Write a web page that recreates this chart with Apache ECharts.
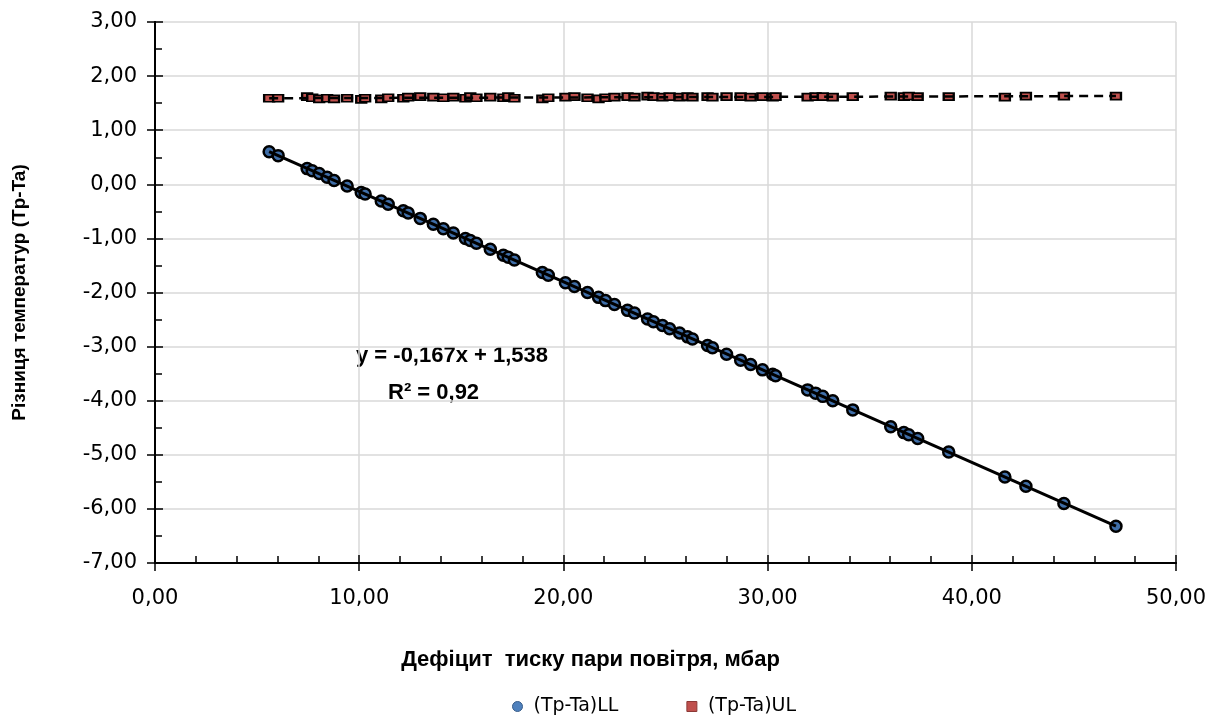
<!DOCTYPE html>
<html>
<head>
<meta charset="utf-8">
<title>Різниця температур</title>
<script src="https://cdn.jsdelivr.net/npm/echarts@6/dist/echarts.min.js"></script>
<style>
    html, body { margin: 0; padding: 0; background: #fff; }
    #main { width: 1211px; height: 724px; }
</style>
</head>
<body>
<div id="main"></div>
<script>
// дефіцит тиску пари повітря, мбар (спільний для обох рядів)
var deficit = [5.59, 6.03, 7.45, 7.70, 8.04, 8.43, 8.77, 9.41, 10.10, 10.29,
    11.08, 11.42, 12.16, 12.40, 12.99, 13.63, 14.12, 14.61, 15.20, 15.44,
    15.74, 16.42, 17.06, 17.30, 17.60, 18.97, 19.26, 20.10, 20.54, 21.18,
    21.72, 22.06, 22.50, 23.14, 23.48, 24.12, 24.41, 24.85, 25.20, 25.69,
    26.08, 26.32, 27.06, 27.30, 27.99, 28.68, 29.17, 29.75, 30.25, 30.39,
    31.96, 32.35, 32.70, 33.19, 34.17, 36.03, 36.67, 36.91, 37.35, 38.87,
    41.62, 42.65, 44.51, 47.06];

// (Tp-Ta)LL
var diffLL = [0.60, 0.53, 0.29, 0.25, 0.20, 0.13, 0.07, -0.03, -0.15, -0.18,
    -0.31, -0.37, -0.49, -0.53, -0.63, -0.74, -0.82, -0.90, -1.00, -1.04,
    -1.09, -1.20, -1.31, -1.35, -1.40, -1.63, -1.68, -1.82, -1.89, -2.00,
    -2.09, -2.15, -2.22, -2.33, -2.38, -2.49, -2.54, -2.61, -2.67, -2.75,
    -2.82, -2.86, -2.98, -3.02, -3.14, -3.25, -3.33, -3.43, -3.51, -3.54,
    -3.80, -3.86, -3.92, -4.00, -4.17, -4.48, -4.59, -4.63, -4.70, -4.95,
    -5.41, -5.58, -5.90, -6.32];

// (Tp-Ta)UL
var diffUL = [1.59, 1.59, 1.62, 1.60, 1.58, 1.59, 1.58, 1.59, 1.57, 1.59,
    1.58, 1.60, 1.59, 1.61, 1.62, 1.61, 1.60, 1.61, 1.59, 1.62,
    1.60, 1.61, 1.60, 1.62, 1.59, 1.58, 1.60, 1.61, 1.62, 1.60,
    1.58, 1.60, 1.61, 1.62, 1.61, 1.63, 1.62, 1.61, 1.62, 1.61,
    1.62, 1.61, 1.62, 1.61, 1.62, 1.62, 1.61, 1.62, 1.61, 1.62,
    1.61, 1.62, 1.62, 1.61, 1.62, 1.63, 1.62, 1.63, 1.62, 1.62,
    1.61, 1.63, 1.63, 1.63];

var seriesNames = ['(Tp-Ta)LL', '(Tp-Ta)UL'];
var trendText = ['y = -0,167x + 1,538', 'R² = 0,92'];

function pairs(xs, ys) {
    var out = [];
    for (var i = 0; i < xs.length; i++) out.push([xs[i], ys[i]]);
    return out;
}

// лінійний тренд (МНК) — дві крайні точки
function trend(xs, ys) {
    var n = xs.length, sx = 0, sy = 0, sxx = 0, sxy = 0;
    for (var i = 0; i < n; i++) {
        sx += xs[i]; sy += ys[i]; sxx += xs[i] * xs[i]; sxy += xs[i] * ys[i];
    }
    var b = (n * sxy - sx * sy) / (n * sxx - sx * sx);
    var a = (sy - b * sx) / n;
    var x0 = Math.min.apply(null, xs), x1 = Math.max.apply(null, xs);
    return [[x0, a + b * x0], [x1, a + b * x1]];
}

function fmt(v) {
    return v.toFixed(2).replace('.', ',');
}

var myChart = echarts.init(document.getElementById('main'));

var labelFont = { fontFamily: 'DejaVu Sans', fontSize: 21, color: '#000' };
var axisLineStyle = { show: true, onZero: false, lineStyle: { color: '#000', width: 2 } };
var nameFont = { fontFamily: 'Liberation Sans', fontWeight: 'bold', color: '#000' };

var option = {
    animation: false,
    backgroundColor: '#fff',
    grid: { left: 155, right: 35, top: 22, bottom: 161 },
    xAxis: [{
        type: 'value', min: 0, max: 50, interval: 10,
        axisLine: axisLineStyle,
        axisTick: { show: true, length: 8, lineStyle: { color: '#000', width: 1.5 } },
        axisLabel: Object.assign({ margin: 25, formatter: fmt }, labelFont),
        splitLine: { show: true, lineStyle: { color: '#d9d9d9', width: 1.5 } },
        name: 'Дефіцит  тиску пари повітря, мбар',
        nameLocation: 'middle', nameGap: 86,
        nameTextStyle: Object.assign({ fontSize: 22, padding: [0, 150, 0, 0] }, nameFont)
    }, {
        type: 'value', min: 0, max: 50, interval: 10, position: 'bottom',
        axisLine: axisLineStyle,
        axisTick: { show: true, inside: true, length: 8, lineStyle: { color: '#000', width: 1.5 } },
        minorTick: { show: true, splitNumber: 5, length: 7, lineStyle: { color: '#000', width: 1.5 } },
        axisLabel: { show: false },
        splitLine: { show: false }
    }],
    yAxis: [{
        type: 'value', min: -7, max: 3, interval: 1,
        axisLine: axisLineStyle,
        axisTick: { show: true, length: 8, lineStyle: { color: '#000', width: 1.5 } },
        axisLabel: Object.assign({ margin: 18, formatter: fmt }, labelFont),
        splitLine: { show: true, lineStyle: { color: '#d9d9d9', width: 1.5 } },
        name: 'Різниця температур (Tp-Ta)',
        nameLocation: 'middle', nameGap: 126,
        nameTextStyle: Object.assign({ fontSize: 19 }, nameFont)
    }, {
        type: 'value', min: -7, max: 3, interval: 1, position: 'left',
        axisLine: axisLineStyle,
        axisTick: { show: true, inside: true, length: 8, lineStyle: { color: '#000', width: 1.5 } },
        minorTick: { show: true, splitNumber: 2, length: 7, lineStyle: { color: '#000', width: 1.5 } },
        axisLabel: { show: false },
        splitLine: { show: false }
    }],
    legend: {
        top: 692, left: 507, itemGap: 68, itemWidth: 10, itemHeight: 10,
        textStyle: { fontFamily: 'DejaVu Sans', fontSize: 19, color: '#000', padding: [0, 0, 0, 6] },
        data: [
            { name: seriesNames[0], icon: 'circle', itemStyle: { color: '#4f81bd', borderColor: '#385d8a', borderWidth: 1 } },
            { name: seriesNames[1], icon: 'rect', itemStyle: { color: '#c0504d', borderColor: '#8c3836', borderWidth: 1 } }
        ]
    },
    graphic: [{
        type: 'text', left: 356, top: 345,
        style: { text: trendText[0], font: 'bold 22px "Liberation Sans"', fill: '#000' }
    }, {
        type: 'text', left: 388, top: 382,
        style: { text: trendText[1], font: 'bold 22px "Liberation Sans"', fill: '#000' }
    }],
    series: [{
        name: 'trendLL', type: 'line', silent: true, symbol: 'none',
        data: trend(deficit, diffLL),
        lineStyle: { color: '#000', width: 3 }
    }, {
        name: 'trendUL', type: 'line', silent: true, symbol: 'none',
        data: trend(deficit, diffUL),
        lineStyle: { color: '#000', width: 2.5, type: [9, 6] }
    }, {
        name: seriesNames[0], type: 'scatter', symbol: 'circle', symbolSize: 11,
        data: pairs(deficit, diffLL),
        itemStyle: { color: '#3f6ea8', borderColor: '#000', borderWidth: 2.5, opacity: 1 }
    }, {
        name: seriesNames[1], type: 'scatter', symbol: 'rect', symbolSize: [10, 7],
        data: pairs(deficit, diffUL),
        itemStyle: { color: '#c0504d', borderColor: '#000', borderWidth: 2, opacity: 1 }
    }]
};

myChart.setOption(option, true);
</script>
</body>
</html>
